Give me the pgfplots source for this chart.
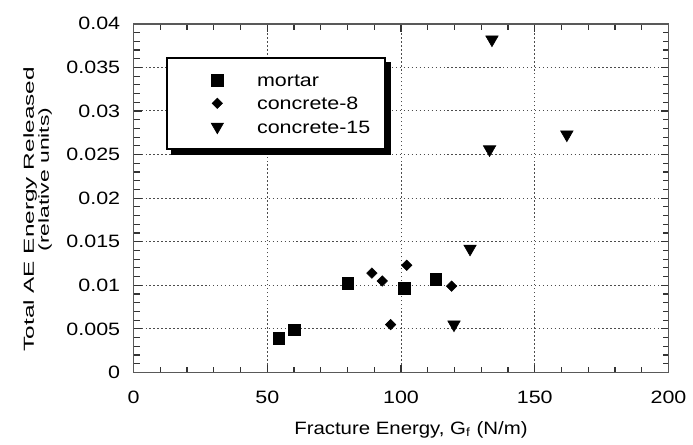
\documentclass[border=0pt]{standalone}
\usepackage{fontspec}
\setmainfont{Liberation Sans}
\usepackage{graphicx}
\usepackage{pgfplots}
\pgfplotsset{compat=1.18}
\newcommand\sx[1]{\scalebox{1.2}[1]{#1}}

\begin{document}
\begin{tikzpicture}[font=\fontsize{9}{10.8}\selectfont]
\begin{axis}[
  scale only axis, width=269.25pt, height=175.5pt,
  xmin=0, xmax=200, ymin=0, ymax=0.04,
  clip=false,
  scaled x ticks=false, scaled y ticks=false,
  xtick={0,50,100,150,200},
  xticklabels={\sx{0},\sx{50},\sx{100},\sx{150},\sx{200}},
  ytick={0,0.005,0.01,0.015,0.02,0.025,0.03,0.035,0.04},
  yticklabels={\sx{0},\sx{0.005},\sx{0.01},\sx{0.015},\sx{0.02},\sx{0.025},\sx{0.03},\sx{0.035},\sx{0.04}},
  minor x tick num=4, minor y tick num=4,
  tick align=inside, tick pos=both,
  major tick length=4pt, minor tick length=3pt,
  tick style={black!80, line width=0.6pt},
  axis line style={black!65, line width=0.8pt},
  grid=major,
  major grid style={black!70, line width=0.5pt, dash pattern=on 0.7pt off 1.3pt},
  xticklabel style={yshift=-6pt},
  yticklabel style={xshift=-3.25pt},
  legend style={name=lgd, at={(0.06,0.906)}, anchor=north west, draw=black, line width=1pt,
    fill=white, inner xsep=5.5pt, inner ysep=6pt, row sep=1.25pt,
    nodes={inner ysep=2pt, text height=6.5pt, text depth=0pt},
    font=\fontsize{9}{10.8}\selectfont},
  legend cell align=left,
  legend image code/.code={\path[draw=none] (0pt,0pt) -- (38pt,0pt); \path[draw=none] plot[#1, draw=none] coordinates {(20pt,0pt)};},
]
\addplot[only marks, mark=square*, mark size=3pt,
  mark options={fill=black, draw=black, line width=0.3pt}]
  coordinates {(54.3,0.0039) (60.0,0.0049) (80.1,0.0102) (101.1,0.0097) (113.0,0.0107)};
\addlegendentry{\sx{mortar}}
\addplot[only marks, mark=square*, mark size=1.85pt,
  mark options={rotate=45, fill=black, draw=black, line width=0.3pt}]
  coordinates {(89.1,0.0114) (93.0,0.0105) (96.1,0.0055) (102.1,0.0123) (118.9,0.0099)};
\addlegendentry{\sx{concrete-8}}
\addplot[only marks, mark=triangle*, mark size=3.6pt,
  mark options={rotate=180, fill=black, draw=black, line width=0.3pt}]
  coordinates {(134.0,0.0382) (133.1,0.0256) (162.0,0.0273) (125.8,0.0142) (119.8,0.0055)};
\addlegendentry{\sx{concrete-15}}

\node[rotate=90, anchor=base, font=\fontsize{7.3}{8}\selectfont]
  at ([xshift=-50.25pt]axis description cs:0,0.468) {\scalebox{1.68}[1]{Total AE Energy Released}};
\node[rotate=90, anchor=base, font=\fontsize{7.3}{8}\selectfont]
  at ([xshift=-42.6pt]axis description cs:0,0.5536) {\scalebox{1.58}[1]{(relative units)}};
\node[anchor=base, font=\fontsize{9}{10.8}\selectfont]
  at ([xshift=5pt,yshift=-31pt]axis description cs:0.5,0) {\scalebox{1.14}[1]{Fracture Energy, G\textsubscript{f} (N/m)}};
\end{axis}
\fill[black] ([xshift=0pt,yshift=-2.5pt]lgd.north east) rectangle ([xshift=2.5pt,yshift=-2.5pt]lgd.south east);
\fill[black] ([xshift=2.5pt,yshift=0pt]lgd.south west) rectangle ([xshift=2.5pt,yshift=-2.5pt]lgd.south east);
\path (current axis.south west) ++(-67.25pt,-35pt) rectangle ++(346.5pt,222.5pt);
\end{tikzpicture}
\end{document}
